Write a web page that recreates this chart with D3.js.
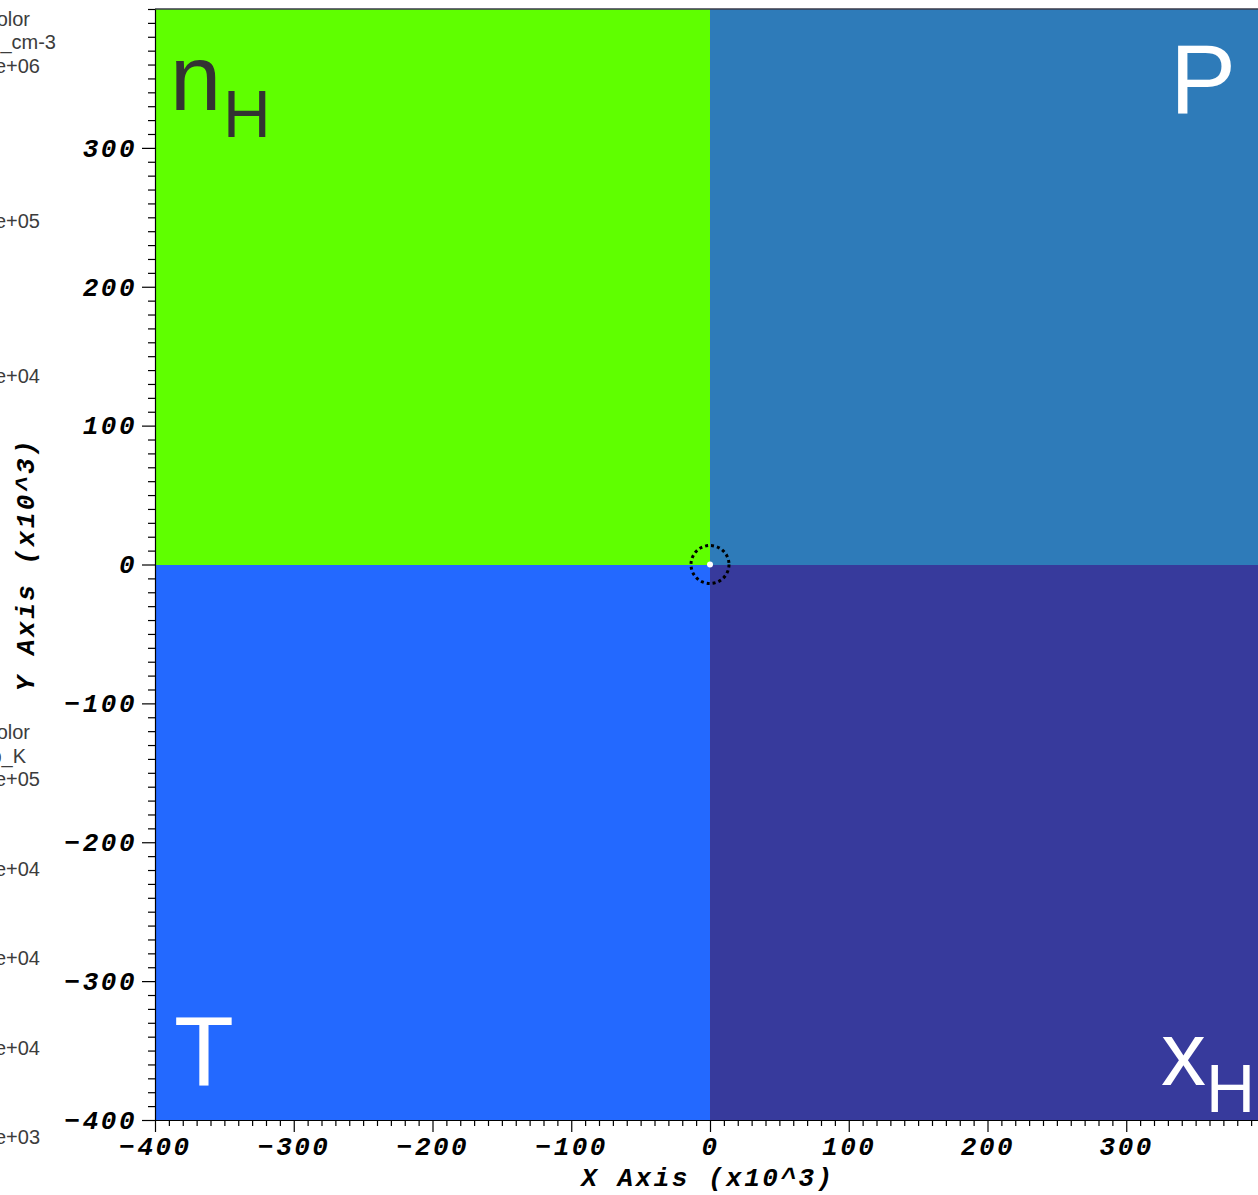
<!DOCTYPE html>
<html>
<head>
<meta charset="utf-8">
<script src="https://cdn.jsdelivr.net/npm/d3@7"></script>
<style>
  body { margin: 0; background: #fff; }
  svg { display: block; }
</style>
</head>
<body>
<svg id="chart"></svg>
<script>
// quadrant fields (data units, x10^3)
const quadrantNames = ['n', 'P', 'T', 'x']
const quadrantSubs = ['H', '', '', 'H']
const quadrantX0 = [-400, 0, -400, 0]
const quadrantX1 = [0, 400, 0, 400]
const quadrantY0 = [0, 0, -400, -400]
const quadrantY1 = [400, 400, 0, 0]

const xMajorTicks = [-400, -300, -200, -100, 0, 100, 200, 300]
const yMajorTicks = [-400, -300, -200, -100, 0, 100, 200, 300]
const minorStep = 10

// clipped legend text on the left
const densityLegendHead = ['Pseudocolor', 'Var: nH_cm-3']
const densityLegendLabels = ['Max: 1.000e+06', '1.000e+05', '1.000e+04']
const tempLegendHead = ['Pseudocolor', 'Var: temp_K']
const tempLegendLabels = ['Max: 1.000e+05', '7.525e+04', '5.050e+04', '2.575e+04', 'Min: 1.000e+03']

const width = 1258
const height = 1195
const margin = { top: 9, right: -7, bottom: 75, left: 155 }

const svg = d3.select('#chart')
  .attr('width', width)
  .attr('height', height)

const x = d3.scaleLinear()
  .domain([-400, 400])
  .range([margin.left, width - margin.right])

const y = d3.scaleLinear()
  .domain([-400, 400])
  .range([height - margin.bottom, margin.top])

const quadColors = ['#5fff00', '#2e7bb9', '#2369ff', '#373a9c']
const labelColors = ['#333333', '#ffffff', '#ffffff', '#ffffff']

svg.selectAll('rect.quad')
  .data(quadrantNames)
  .enter().append('rect')
  .attr('class', 'quad')
  .attr('x', (_, i) => x(quadrantX0[i]))
  .attr('y', (_, i) => y(quadrantY1[i]))
  .attr('width', (_, i) => x(quadrantX1[i]) - x(quadrantX0[i]))
  .attr('height', (_, i) => y(quadrantY0[i]) - y(quadrantY1[i]))
  .attr('fill', (_, i) => quadColors[i])
  .attr('shape-rendering', 'crispEdges')

// top frame line
svg.append('line')
  .attr('x1', x(-400)).attr('x2', x(400))
  .attr('y1', y(400)).attr('y2', y(400))
  .attr('stroke', '#3a3a4a')
  .attr('stroke-width', 1.5)

// quadrant labels
const labelFont = 'Liberation Sans, Arial, sans-serif'
quadrantNames.forEach((name, i) => {
  const t = svg.append('text')
    .attr('font-family', labelFont)
    .attr('fill', labelColors[i])
  if (name === 'n') {
    t.append('tspan').attr('x', x(-400) + 15).attr('y', 110).attr('font-size', 92).text(name)
    t.append('tspan').attr('x', x(-400) + 68).attr('y', 137).attr('font-size', 66).text(quadrantSubs[i])
  } else if (name === 'x') {
    t.append('tspan').attr('x', 1161).attr('y', 1085).attr('font-size', 90).text(name)
    t.append('tspan').attr('x', 1206).attr('y', 1112).attr('font-size', 68).text(quadrantSubs[i])
  } else if (name === 'P') {
    t.append('tspan').attr('x', 1170).attr('y', 113).attr('font-size', 99).text(name)
  } else {
    t.append('tspan').attr('x', x(-400) + 19).attr('y', 1085).attr('font-size', 98).text(name)
  }
})

// axes
const tickFont = 'Liberation Mono, Courier New, monospace'
const xMinor = d3.range(-400, 401, minorStep).filter(v => xMajorTicks.indexOf(v) < 0)
const yMinor = d3.range(-400, 401, minorStep).filter(v => yMajorTicks.indexOf(v) < 0)

const styleAxis = g => {
  g.selectAll('path, line').attr('stroke', '#000').attr('stroke-width', 1.2)
  g.selectAll('text')
    .attr('fill', '#000')
    .attr('font-family', tickFont)
    .attr('font-weight', 'bold')
    .attr('font-style', 'italic')
    .attr('font-size', 26)
    .attr('letter-spacing', 2.5)
}

svg.append('g')
  .attr('transform', `translate(0,${y(-400)})`)
  .call(d3.axisBottom(x).tickValues(xMinor).tickSize(6).tickFormat(''))
  .call(g => g.select('.domain').remove())
  .call(styleAxis)

svg.append('g')
  .attr('transform', `translate(0,${y(-400)})`)
  .call(d3.axisBottom(x).tickValues(xMajorTicks).tickSize(12).tickSizeOuter(0).tickPadding(5))
  .call(styleAxis)

svg.append('g')
  .attr('transform', `translate(${x(-400)},0)`)
  .call(d3.axisLeft(y).tickValues(yMinor).tickSize(7).tickFormat(''))
  .call(g => g.select('.domain').remove())
  .call(styleAxis)

svg.append('g')
  .attr('transform', `translate(${x(-400)},0)`)
  .call(d3.axisLeft(y).tickValues(yMajorTicks).tickSize(13).tickSizeOuter(0).tickPadding(5))
  .call(styleAxis)

// axis titles
const titleStyle = t => t
  .attr('font-family', tickFont)
  .attr('font-weight', 'bold')
  .attr('font-style', 'italic')
  .attr('font-size', 26)
  .attr('letter-spacing', 2.5)
  .attr('fill', '#000')
  .attr('text-anchor', 'middle')

svg.append('text')
  .attr('x', x(0) - 2)
  .attr('y', 1186)
  .text('X Axis (x10^3)')
  .call(titleStyle)

svg.append('text')
  .attr('transform', `translate(34,${y(0)}) rotate(-90)`)
  .text('Y Axis (x10^3)')
  .call(titleStyle)

// centre marker
svg.append('circle')
  .attr('cx', x(0)).attr('cy', y(0))
  .attr('r', 19)
  .attr('fill', 'none')
  .attr('stroke', '#000')
  .attr('stroke-width', 3)
  .attr('stroke-dasharray', '3,3')

svg.append('circle')
  .attr('cx', x(0)).attr('cy', y(0))
  .attr('r', 3)
  .attr('fill', '#fff')

// clipped legends (cut at the left edge, as in the original)
const legendFont = 'Liberation Sans, Arial, sans-serif'
const legendText = (txt, rx, by) => svg.append('text')
  .attr('x', rx).attr('y', by)
  .attr('text-anchor', 'end')
  .attr('font-family', legendFont)
  .attr('font-size', 20)
  .attr('fill', '#3c3c3c')
  .text(txt)

legendText(densityLegendHead[0], 30, 26)
legendText(densityLegendHead[1], 56, 49)
densityLegendLabels.forEach((d, i) => legendText(d, 40, 73 + i * 155))

legendText(tempLegendHead[0], 30, 739)
legendText(tempLegendHead[1], 26, 763)
tempLegendLabels.forEach((d, i) => legendText(d, 40, 786 + i * 89.5))
</script>
</body>
</html>
